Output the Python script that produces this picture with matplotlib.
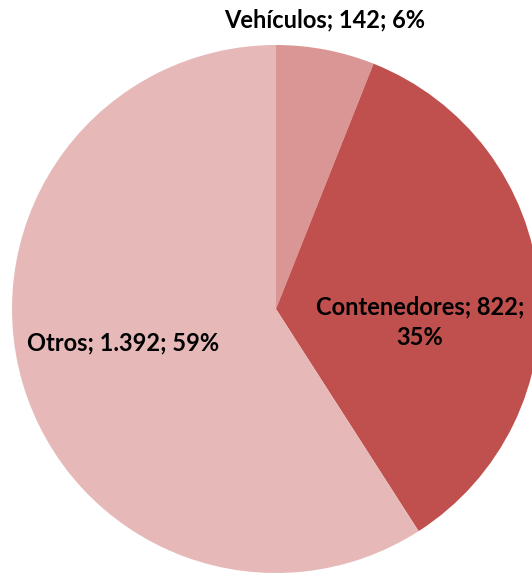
import matplotlib.pyplot as plt

categories = ['Vehículos', 'Contenedores', 'Otros']
values = [142, 822, 1392]
colors = ['#D99694', '#C0504D', '#E6B9B8']

total = sum(values)


def fmt(v):
    return f'{v:,}'.replace(',', '.')


labels = [f'{c}; {fmt(v)}; {round(v / total * 100)}%' for c, v in zip(categories, values)]
labels[1] = labels[1].replace('; 35%', ';\n35%')

fig = plt.figure(figsize=(5.32, 5.74), dpi=100)
ax = fig.add_axes([12 / 532, 1 / 574, 528 / 532, 528 / 574])
ax.pie(values, colors=colors, startangle=90, counterclock=False, radius=1,
       wedgeprops=dict(linewidth=0))
ax.set_xlim(-1, 1)
ax.set_ylim(-1, 1)

pos = [(0.186, 1.095), (0.545, -0.05), (-0.578, -0.129)]
for (x, y), lab in zip(pos, labels):
    ax.text(x, y, lab, ha='center', va='center', fontsize=17, fontweight='bold',
            family='Lato', linespacing=1.35, clip_on=False)

fig.savefig('out.png', dpi=100)
